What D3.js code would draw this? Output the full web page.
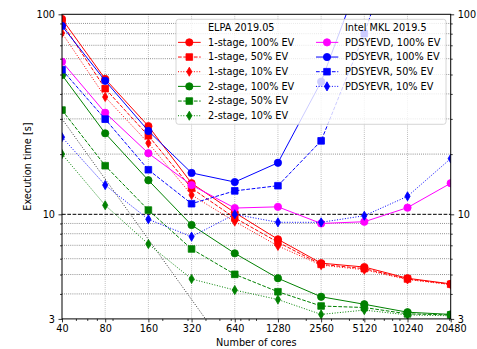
<!DOCTYPE html>
<html>
<head>
<meta charset="utf-8">
<script src="https://cdn.jsdelivr.net/npm/d3@7"></script>
<style>
  body { margin: 0; background: #fff; }
  svg { display: block; }
  text { font-family: "DejaVu Sans", sans-serif; font-size: 9.7px; fill: #000; }
</style>
</head>
<body>
<svg id="chart" width="477" height="349"></svg>
<script>
// Core counts on the x axis
const cores = [40, 80, 160, 320, 640, 1280, 2560, 5120, 10240, 20480];

// ELPA 2019.05 timings [s]
const elpa1stage100 = [94.7, 47.5, 27.6, 14.3, 10.2, 7.5, 5.7, 5.45, 4.79, 4.49];
const elpa1stage50  = [90.5, 42.5, 24.7, 13.5, 9.6, 7.25, 5.62, 5.35, 4.75, 4.47];
const elpa1stage10  = [80.6, 38.6, 22.7, 12.5, 9.2, 6.95, 5.57, 5.28, 4.72, 4.45];
const elpa2stage100 = [49.7, 25.4, 14.8, 8.84, 6.38, 4.79, 3.87, 3.55, 3.24, 3.16];
const elpa2stage50  = [33.2, 17.5, 10.5, 6.71, 5.01, 4.10, 3.48, 3.42, 3.18, 3.14];
const elpa2stage10  = [20.0, 11.1, 7.1, 4.75, 4.18, 3.75, 3.16, 3.32, 3.14, 3.11];

// Intel MKL 2019.5 timings [s]
const pdsyevd100 = [57.9, 32.2, 20.2, 14.0, 10.75, 10.9, 9.0, 9.18, 10.8, 14.3];
const pdsyevr100 = [87.4, 46.5, 26.1, 16.1, 14.5, 18.1, 46.0, 175, 400, 900];
const pdsyevr50  = [52.8, 29.9, 16.7, 11.3, 13.1, 13.9, 23.3, 80, 350, 800];
const pdsyevr10  = [24.3, 14.0, 9.44, 7.73, 10.0, 9.12, 9.12, 9.84, 12.3, 19.0];

// Ideal strong-scaling reference
const idealCores = [40, 80, 160, 320, 640];
const idealTime  = [30, 15, 7.5, 3.75, 1.875];

// Tick values
const xTicks = cores;
const yTicks = [3, 10, 100];
const yMinor = [4, 5, 6, 7, 8, 9, 20, 30, 40, 50, 60, 70, 80, 90];
const xMinor = [50, 60, 70, 90, 200, 300, 400, 500, 600, 700, 800, 900,
                2000, 3000, 4000, 5000, 6000, 7000, 8000, 9000, 20000];

const W = 477, H = 349;
const L = 62, R = 450.7, T = 14.3, B = 318.9;

const x = d3.scaleLog().base(2).domain([40, 20480]).range([L, R]);
const y = d3.scaleLog().base(10).domain([3, 100]).range([B, T]);

const svg = d3.select("#chart");

svg.append("defs").append("clipPath").attr("id", "plotclip")
  .append("rect").attr("x", L).attr("y", T).attr("width", R - L).attr("height", B - T);

// Grid
const grid = svg.append("g");
grid.selectAll("line.vg").data(xTicks.slice(1, -1)).join("line")
  .attr("x1", d => x(d)).attr("x2", d => x(d)).attr("y1", T).attr("y2", B)
  .attr("stroke", "#9a9a9a").attr("stroke-width", 0.8).attr("stroke-dasharray", "0.8,1.3");
grid.selectAll("line.hg").data(yMinor).join("line")
  .attr("x1", L).attr("x2", R).attr("y1", d => y(d)).attr("y2", d => y(d))
  .attr("stroke", "#555").attr("stroke-width", 0.8).attr("stroke-dasharray", "0.8,1.3");
grid.append("line")
  .attr("x1", L).attr("x2", R).attr("y1", y(10)).attr("y2", y(10))
  .attr("stroke", "#000").attr("stroke-width", 1).attr("stroke-dasharray", "3.7,1.6");

// Series definitions
const series = [
  { label: "1-stage, 100% EV", values: elpa1stage100, color: "#ff0000", dash: null, marker: "circle" },
  { label: "1-stage, 50% EV",  values: elpa1stage50,  color: "#ff0000", dash: "3.7,1.6", marker: "square" },
  { label: "1-stage, 10% EV",  values: elpa1stage10,  color: "#ff0000", dash: "1,1.65", marker: "diamond" },
  { label: "2-stage, 100% EV", values: elpa2stage100, color: "#008000", dash: null, marker: "circle" },
  { label: "2-stage, 50% EV",  values: elpa2stage50,  color: "#008000", dash: "3.7,1.6", marker: "square" },
  { label: "2-stage, 10% EV",  values: elpa2stage10,  color: "#008000", dash: "1,1.65", marker: "diamond" },
  { label: "PDSYEVD, 100% EV", values: pdsyevd100,    color: "#ff00ff", dash: null, marker: "circle" },
  { label: "PDSYEVR, 100% EV", values: pdsyevr100,    color: "#0000ff", dash: null, marker: "circle" },
  { label: "PDSYEVR, 50% EV",  values: pdsyevr50,     color: "#0000ff", dash: "3.7,1.6", marker: "square" },
  { label: "PDSYEVR, 10% EV",  values: pdsyevr10,     color: "#0000ff", dash: "1,1.65", marker: "diamond" }
];

const symbolOf = {
  circle: d3.symbol().type(d3.symbolCircle).size(42),
  square: d3.symbol().type(d3.symbolSquare).size(44),
  diamond: d3.symbol().type(d3.symbolDiamond).size(24)
};

const line = d3.line().x(d => x(d[0])).y(d => y(d[1]));

const plot = svg.append("g").attr("clip-path", "url(#plotclip)");

// Ideal scaling reference line
plot.append("path")
  .datum(idealCores.map((c, i) => [c, idealTime[i]]))
  .attr("d", line).attr("fill", "none")
  .attr("stroke", "#333").attr("stroke-width", 1).attr("stroke-dasharray", "1,1.65");

series.forEach(s => {
  const pts = cores.map((c, i) => [c, s.values[i]]);
  const g = plot.append("g");
  g.append("path").datum(pts).attr("d", line)
    .attr("fill", "none").attr("stroke", s.color).attr("stroke-width", 1)
    .attr("stroke-dasharray", s.dash);
  g.selectAll("path.m").data(pts).join("path").attr("class", "m")
    .attr("transform", d => `translate(${x(d[0])},${y(d[1])})`)
    .attr("d", symbolOf[s.marker]())
    .attr("fill", s.color).attr("stroke", s.color).attr("stroke-width", 0.8);
});

// Axes
const ax = svg.append("g");
ax.append("g").attr("transform", `translate(0,${B})`)
  .call(d3.axisBottom(x).tickValues(xTicks).tickFormat(d3.format("d")).tickSize(3.5).tickPadding(3))
  .call(g => g.select(".domain").remove());
ax.append("g").attr("transform", `translate(0,${B})`)
  .call(d3.axisBottom(x).tickValues(xMinor).tickFormat("").tickSize(2))
  .call(g => g.select(".domain").remove());

[["left", L, d3.axisLeft], ["right", R, d3.axisRight]].forEach(([side, pos, fn]) => {
  ax.append("g").attr("transform", `translate(${pos},0)`)
    .call(fn(y).tickValues(yTicks).tickFormat(d3.format("d")).tickSize(3.5).tickPadding(3.5))
    .call(g => g.select(".domain").remove());
  ax.append("g").attr("transform", `translate(${pos},0)`)
    .call(fn(y).tickValues(yMinor).tickFormat("").tickSize(2))
    .call(g => g.select(".domain").remove());
});
ax.selectAll("text").attr("font-family", "DejaVu Sans, sans-serif").attr("font-size", 9.7).attr("fill", "#000");
ax.selectAll("line").attr("stroke", "#000").attr("stroke-width", 0.8);

// Frame
svg.append("rect").attr("x", L).attr("y", T).attr("width", R - L).attr("height", B - T)
  .attr("fill", "none").attr("stroke", "#000").attr("stroke-width", 1);

// Axis titles
svg.append("text").attr("x", (L + R) / 2).attr("y", 346).attr("text-anchor", "middle")
  .text("Number of cores");
svg.append("text").attr("transform", `translate(31,${(T + B) / 2}) rotate(-90)`)
  .attr("text-anchor", "middle").text("Execution time [s]");

// Legend
const lg = svg.append("g");
lg.append("rect").attr("x", 176).attr("y", 19.3).attr("width", 270).attr("height", 105)
  .attr("rx", 2.5).attr("fill", "#fff").attr("fill-opacity", 0.8)
  .attr("stroke", "#cccccc").attr("stroke-width", 0.8);

const rowY = i => 27.7 + i * 14.67;
const columns = [
  { header: "ELPA 2019.05", x0: 178, xm: 189.3, x1: 200.7, tx: 208, items: series.slice(0, 6) },
  { header: "Intel MKL 2019.5", x0: 316, xm: 327, x1: 338.3, tx: 345, items: series.slice(6) }
];
columns.forEach(col => {
  lg.append("text").attr("x", col.tx).attr("y", rowY(0)).attr("dy", "0.35em").text(col.header);
  col.items.forEach((s, i) => {
    const yy = rowY(i + 1);
    lg.append("line").attr("x1", col.x0).attr("x2", col.x1).attr("y1", yy).attr("y2", yy)
      .attr("stroke", s.color).attr("stroke-width", 1).attr("stroke-dasharray", s.dash);
    lg.append("path").attr("transform", `translate(${col.xm},${yy})`)
      .attr("d", symbolOf[s.marker]()).attr("fill", s.color).attr("stroke", s.color).attr("stroke-width", 0.8);
    lg.append("text").attr("x", col.tx).attr("y", yy).attr("dy", "0.35em").text(s.label);
  });
});
</script>
</body>
</html>
